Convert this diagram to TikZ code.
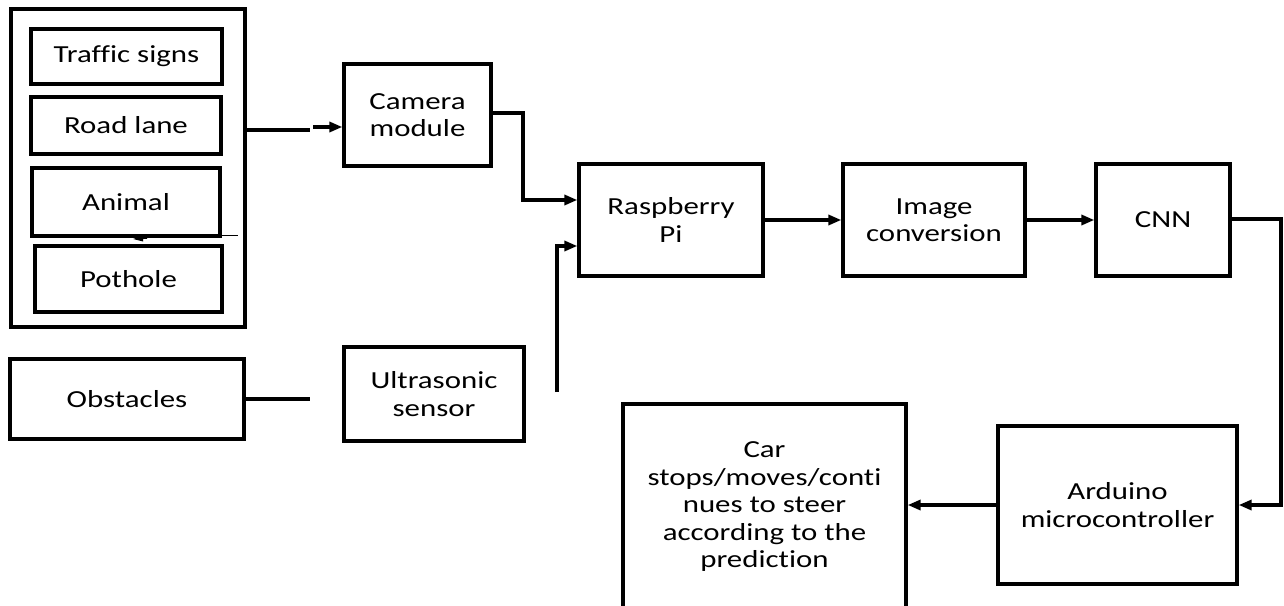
\documentclass[tikz,border=0pt]{standalone}
\usepackage{fontspec}
\setmainfont{Carlito}[FakeStretch=1.26, Ligatures={NoCommon}]
\usetikzlibrary{arrows.meta}
\tikzset{
  box/.style={draw, line width=3.3pt, fill=white, inner sep=0pt, align=center,
    font=\fontsize{24.5}{27.5}\selectfont},
  conn/.style={line width=3.4pt},
  arr/.style={conn, -{Triangle[length=13pt,width=10pt]}},
}
\begin{document}
\begin{tikzpicture}[x=1pt,y=-1pt]
\clip (0,0) rectangle (1284,605);
\fill[white] (0,0) rectangle (1284,605);
% nodes
\node[box, minimum width=234pt, minimum height=318pt] (outer) at (128,168) {};
\node[box, minimum width=191pt, minimum height=55pt] (traffic) at (126.5,56.5) {Traffic signs};
\node[box, minimum width=190pt, minimum height=57pt] (road) at (126,125.5) {Road lane};
\node[box, minimum width=188pt, minimum height=68pt] (animal) at (126,202) {Animal};
\node[box, minimum width=187pt, minimum height=66pt] (pothole) at (128.5,279) {Pothole};
\node[box, minimum width=147pt, minimum height=102pt] (camera) at (417.5,115) {Camera\\module};
\node[box, minimum width=184pt, minimum height=112pt] (rasp) at (671,220) {Raspberry\\Pi};
\node[box, minimum width=182pt, minimum height=112pt] (imgconv) at (934,220) {Image\\conversion};
\node[box, minimum width=134pt, minimum height=112pt] (cnn) at (1163,220) {CNN};
\node[box, minimum width=234pt, minimum height=80pt] (obstacles) at (127,399) {Obstacles};
\node[box, minimum width=180pt, minimum height=94pt] (ultra) at (434,394) {Ultrasonic\\sensor};
\node[box, minimum width=283pt, minimum height=206pt] (car) at (764.5,507) {Car\\stops/moves/conti\\nues to steer\\according to the\\prediction};
\node[box, minimum width=239pt, minimum height=158pt] (arduino) at (1117.5,505) {Arduino\\microcontroller};
% small mark between Animal and Pothole
\coordinate (a0) at (238,235);
\coordinate (a1) at (133,239);
\draw[line width=1pt] (animal.east |- a0) -- (a0);
\draw[line width=1.5pt, -{Triangle[length=10pt,width=6pt]}] (147,238) -- (a1);
% connectors
\coordinate (c1) at (310,130);
\coordinate (c2) at (313,127);
\draw[conn] (outer.east |- c1) -- (c1);
\draw[arr] (c2) -- (camera.west |- c2);
\coordinate (cr) at (523,200);
\coordinate (ce) at (491,113);
\draw[arr] (camera.east |- ce) -| (cr) -- (rasp.west |- cr);
\coordinate (u0) at (557,392);
\coordinate (u1) at (557,246);
\draw[arr] (u0) -- (u1) -- (rasp.west |- u1);
\coordinate (o1) at (310,399);
\draw[conn] (obstacles.east |- o1) -- (o1);
\draw[arr] (rasp) -- (imgconv);
\draw[arr] (imgconv) -- (cnn);
\coordinate (r1) at (1281,219);
\draw[arr] (cnn.east |- r1) -- (r1) |- (arduino.east);
\draw[arr] (arduino.west) -- (car.east |- arduino.west);
\end{tikzpicture}
\end{document}
